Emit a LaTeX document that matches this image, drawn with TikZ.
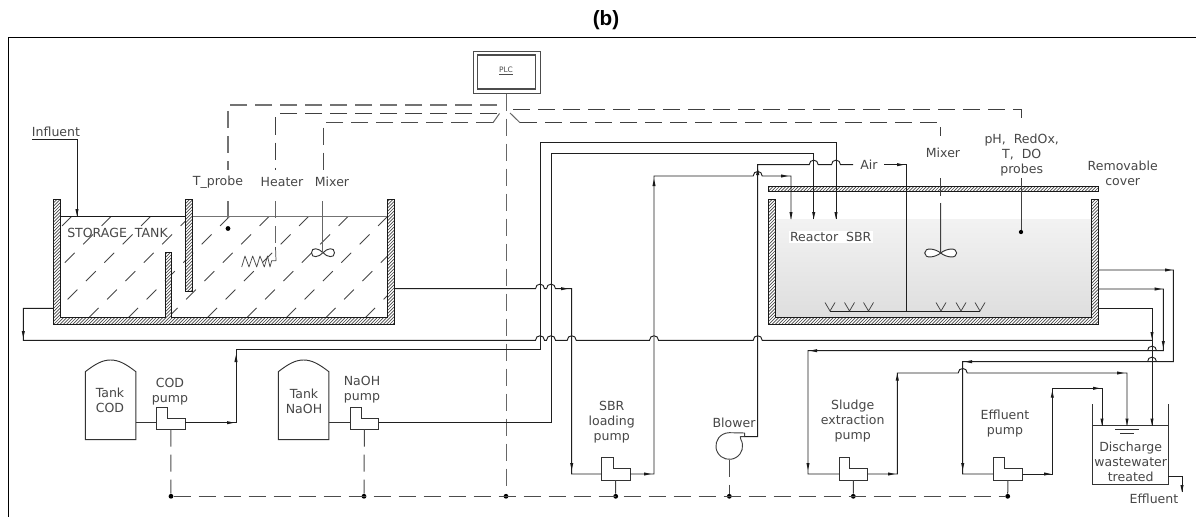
\documentclass[tikz,border=0pt]{standalone}
\usepackage{fontspec}
\setmainfont{DejaVu Sans}
\newfontfamily\titlefont{Liberation Sans}
\usetikzlibrary{arrows.meta}
\newcommand\cadf{\fontsize{9.4}{11.25}\selectfont}
\newcommand\hop[2]{-- (#1-4.5,#2) .. controls (#1-4.5,#2-6) and (#1+4.5,#2-6) .. (#1+4.5,#2)}
\newcommand\ahR[2]{\fill[tip] (#1,#2) -- (#1-7,#2-1.6) -- (#1-7,#2+1.6) -- cycle;}
\newcommand\ahL[2]{\fill[tip] (#1,#2) -- (#1+7,#2-1.6) -- (#1+7,#2+1.6) -- cycle;}
\newcommand\ahU[2]{\fill[tip] (#1,#2) -- (#1-1.6,#2+7) -- (#1+1.6,#2+7) -- cycle;}
\newcommand\ahD[2]{\fill[tip] (#1,#2) -- (#1-1.6,#2-7) -- (#1+1.6,#2-7) -- cycle;}
\newcommand\hatched[3]{% x start, x end, path
  \fill[white] #3;
  \begin{scope}
    \clip #3;
    \pgfmathsetmacro\hnext{#1+3.2}
    \foreach \h in {#1,\hnext,...,#2} { \draw[line width=.5pt,black!72] (\h,330) -- (\h+150,180); }
  \end{scope}
  \draw[line width=.7pt,black!90] #3;
}
\newcommand\pumpbody[6]{% name, x, ytop, width, step x offset, y offset of outlet
  \draw[equip,fill=white] (#2,#3+22.5) -- (#2,#3) -- (#2+#5,#3) -- (#2+#5,#3+11) -- (#2+#4,#3+11) -- (#2+#4,#3+22.5) -- cycle;
  \coordinate (#1-in) at (#2,#3+#6);
  \coordinate (#1-out) at (#2+#4,#3+#6);
  \coordinate (#1-ctl) at (#2+#4/2,#3+22.5);
}
\newcommand\storetank[2]{% name, x left
  \draw[equip] (#2,439.7) -- (#2,371.7) .. controls (#2+10,364) and (#2+17,360) .. (#2+25.3,360) .. controls (#2+33.6,360) and (#2+40.6,364) .. (#2+50.6,371.7) -- (#2+50.6,439.7) -- cycle;
  \coordinate (#1-out) at (#2+50.6,422.7);
}
\newcommand\prop[3]{% x, y, half width
  \draw[equip,fill=white] (#1,#2) .. controls (#1+#3*.35,#2-4.5) and (#1+#3,#2-6) .. (#1+#3,#2) .. controls (#1+#3,#2+6) and (#1+#3*.35,#2+4.5) .. (#1,#2) .. controls (#1-#3*.35,#2-4.5) and (#1-#3,#2-6) .. (#1-#3,#2) .. controls (#1-#3,#2+6) and (#1-#3*.35,#2+4.5) .. (#1,#2) -- cycle;
}
\tikzset{
  pipe/.style={line width=.7pt,draw=black!88},
  equip/.style={line width=.7pt,draw=black!80},
  tip/.style={fill=black!90},
  ctlline/.style={line width=.75pt,draw=black!70,dash pattern=on 12.75pt off 6pt},
  solidctl/.style={line width=.75pt,draw=black!75},
  lbl/.style={font=\cadf,text=black!72,align=center,inner sep=0pt},
  dot/.style={circle,fill=black,inner sep=0pt,minimum size=3.6pt},
  swash/.style={line width=.55pt,draw=black!72,dash pattern=on 10.5pt off 9pt},
}
\begin{document}
\begin{tikzpicture}[x=.75pt,y=-.75pt]
\useasboundingbox (0,0) rectangle (1196,517);
\fill[white] (0,0) rectangle (1196,517);
\node[font=\titlefont\bfseries\fontsize{15.5}{17}\selectfont,text=black,inner sep=0pt] (title) at (606,20.5) {(b)};
\draw[line width=.8pt,black] (8.5,517) -- (8.5,37.5) -- (1196,37.5);

% ---------- PLC
\draw[equip,draw=black!70] (473,51) rectangle (540,93.7);
\draw[equip,draw=black!70,line width=.9pt] (477.5,55) rectangle (535.5,89);
\node[font=\fontsize{5.6}{7}\selectfont,text=black!70,inner sep=0pt] (plc) at (506,71) {\underline{PLC}};
\coordinate (plcbot) at (506,93.7);
\coordinate (busplc) at (506,496.3);

% ---------- storage tank
\begin{scope}
\clip (60,216) rectangle (387,317.5);
\foreach \k in {-3,...,8} {
  \draw[swash] (388-39.5*\k,216) -- ++(-115,115);
}
\end{scope}
\draw[line width=.7pt,black!90] (60,216) -- (185,216);
\draw[line width=.7pt,black!55] (192,216) -- (387,216);
\hatched{-80}{400}{(53.3,199) -- (60.7,199) -- (60.7,317.5) -- (165,317.5) -- (165,252) -- (171.7,252) -- (171.7,317.5) -- (387.3,317.5) -- (387.3,199) -- (394.7,199) -- (394.7,324.3) -- (53.3,324.3) -- cycle}
\hatched{40}{160}{(185.3,199) rectangle (192.7,291.5)}
\node[lbl] (storagelbl) at (117.5,232.5) {STORAGE~~TANK};
\node[lbl] (influentlbl) at (56,132) {Influent};
\coordinate (infa) at (32,139.5);
\coordinate (infb) at (77,216);
\draw[pipe] (infa) -- (77,139.5) -- (infb);
\ahD{77}{216}

% storage tank instruments
\node[lbl] (tprobe) at (218,182) {T\_probe};
\node[lbl] (heaterlbl) at (282,182) {Heater};
\node[lbl] (mixerA) at (332,182) {Mixer};
\node[dot] (tdot) at (228,228.5) {};
\coordinate (heatertop) at (275.5,247);
\coordinate (heatera) at (241.7,267);
\prop{323}{252.7}{11.5}
\coordinate (propA) at (322.8,252.7);
\draw[ctlline,line width=.95pt,draw=black!55] (497,105) -- (228,105) -- (228,170);
\draw[ctlline,line width=.95pt,draw=black!55] (228,201) -- (tdot);
\draw[ctlline,draw=black!75] (497,114) -- (275.5,114) -- (275.5,170);
\draw[ctlline,draw=black!60] (275.5,201) -- (heatertop);
\draw[ctlline,draw=black!70] (493,122.7) -- (323,122.7) -- (323,172);
\draw[solidctl,draw=black!60] (322.8,201) -- (propA);
\draw[line width=.55pt,black!70,line join=round] (heatera) -- (245,256) -- (249,267) -- (252.7,256) -- (256.7,267) -- (260,256) -- (264.3,267) -- (267.5,256) -- (270,267) -- (271.7,260.7) -- (276,260.7) -- (heatertop);

% PLC bus
\draw[ctlline,draw=black!60] (plcbot) -- (busplc);
\draw[solidctl,draw=black!60] (493,122.7) -- (499.5,113.5);
\draw[solidctl,draw=black!60] (510,113) -- (520,122.7);
\draw[ctlline,draw=black!75] (513,109.5) -- (1021,109.5) -- (1021,125);
\draw[ctlline,draw=black!75] (520,122.7) -- (940.5,122.7) -- (940.5,136);

% ---------- reactor
\shade[top color=black!5,bottom color=black!13] (775.6,219.3) rectangle (1091.7,317.7);
\hatched{440}{1110}{(768,199.3) -- (775.6,199.3) -- (775.6,317.7) -- (1091.7,317.7) -- (1091.7,199.3) -- (1098.5,199.3) -- (1098.5,324.3) -- (768,324.3) -- cycle}
\hatched{620}{1100}{(768,186.5) rectangle (1098.5,191.5)}
\node[lbl,fill=white,inner xsep=1pt,inner ysep=1pt] (reactorlbl) at (830.7,236.7) {Reactor~~SBR};
\node[lbl] (mixerB) at (943,153) {Mixer};
\node[lbl] (probes) at (1021.7,155.5) {pH,~~RedOx,\\T,~~DO\\probes};
\node[lbl] (covertxt) at (1122.7,173) {Removable\\cover};
\node[lbl] (airlbl) at (869,165) {Air};
\node[dot,minimum size=3.2pt] (pdot) at (1021,232) {};
\draw[solidctl] (1021,178) -- (pdot);
\coordinate (propB) at (940.7,253);
\prop{940.7}{253}{16}
\draw[solidctl,draw=black!75] (940.5,178) -- (940.5,196);
\draw[solidctl,draw=black!75] (940.5,203) -- (propB);
% diffusers
\coordinate (diffL) at (830,311);
\coordinate (diffR) at (980,311);
\draw[pipe] (diffL) -- (diffR);
\foreach \vx in {830,849.5,868.5,941,961,980} {
  \draw[line width=.55pt,black!75] (\vx-5,302.5) -- (\vx,311) -- (\vx+5,302.5);
}

% ---------- pumps, tanks
\storetank{tcod}{85.3}
\storetank{tnaoh}{278.3}
\pumpbody{pcod}{156.7}{407}{28.3}{11}{15.7}
\pumpbody{pnaoh}{350}{407}{28.7}{11}{15.7}
\pumpbody{psbr}{601.3}{457.7}{28.7}{12}{16.3}
\pumpbody{pslu}{839.3}{457.7}{28.4}{10.5}{16.3}
\pumpbody{peff}{993}{457.7}{29.7}{11.3}{16.3}
\node[lbl] (tcodlbl) at (110,400.5) {Tank\\COD};
\node[lbl] (tnaohlbl) at (304,401.5) {Tank\\NaOH};
\node[lbl] (pcodlbl) at (170,391.5) {COD\\pump};
\node[lbl] (pnaohlbl) at (362,390) {NaOH\\pump};
\node[lbl] (psbrlbl) at (611.7,422) {SBR\\loading\\pump};
\node[lbl] (pslulbl) at (852.7,421.5) {Sludge\\extraction\\pump};
\node[lbl] (pefflbl) at (1005,424) {Effluent\\pump};
\node[lbl] (blowerlbl) at (734,422.7) {Blower};

% blower
\draw[equip,draw=black!75,line join=round] (740.8,439.35) arc[start angle=30,end angle=-270,radius=10pt] -- (744.7,433) -- (744.7,436.7) -- (740.3,436.7) -- (740.8,439.35);
\coordinate (blout) at (744.7,436.7);
\coordinate (blctl) at (729.3,459.5);

% ---------- discharge tank
\draw[equip] (1092.3,404) -- (1092.3,484) -- (1168,484) -- (1168,404);
\draw[equip] (1092.3,425.7) -- (1168,425.7);
\coordinate (dsw) at (1115,429);
\coordinate (dse) at (1139,429);
\draw[equip] (dsw) -- (dse);
\draw[equip] (1120,433) -- (1134,433);
\node[lbl] (dislbl) at (1130.7,461.7) {Discharge\\wastewater\\treated};
\node[lbl] (efflbl) at (1154,499) {Effluent};
\coordinate (disout) at (1168,476);
\draw[pipe] (disout) -- (1182,476) -- (1182,492);
\ahD{1182}{492}

% ---------- pipes
\coordinate (stout) at (394.7,288.7);
\draw[pipe] (stout) \hop{540}{288.7} \hop{551}{288.7} -- (571.7,288.7) -- (571.7,474) -- (psbr-in);
\ahR{568}{288.7}\ahD{571.7}{470}
\coordinate (stdrain) at (53.3,308.3);
\coordinate (drainend) at (1152,340.3);
\draw[pipe] (stdrain) -- (23.3,308.3) -- (23.3,340.3) \hop{540}{340.3} \hop{551}{340.3} \hop{571.7}{340.3} \hop{654}{340.3} \hop{757.7}{340.3} -- (drainend);
\ahD{23.3}{338}
\draw[equip] (tcod-out) -- (pcod-in);
\draw[equip] (tnaoh-out) -- (pnaoh-in);
\coordinate (rA) at (836,219);
\coordinate (rB) at (813.7,219);
\coordinate (rC) at (791,219);
\draw[pipe] (pcod-out) -- (236,422.7) -- (236,349.7) -- (540,349.7) -- (540,142.3) -- (836,142.3) -- (rA);
\ahR{234}{422.7}\ahU{236}{355}\ahD{836}{219}
\draw[pipe] (pnaoh-out) -- (551,422.7) -- (551,153.7) -- (813.7,153.7) -- (rB);
\ahD{813.7}{219}
\draw[pipe] (psbr-out) -- (654,474) -- (654,176) \hop{757.7}{176} -- (791,176) -- (rC);
\ahR{651}{474}\ahU{654}{179}\ahR{788}{176}\ahD{791}{219}
\draw[pipe] (blout) -- (757.7,436.7) -- (757.7,164.7) \hop{813.7}{164.7} \hop{836}{164.7} -- (853,164.7);
\ahU{757.7}{168}
\coordinate (airb) at (906,311);
\draw[pipe] (884,164.7) -- (906,164.7) -- (airb);
\ahR{904}{164.7}
% reactor outlets
\coordinate (oa) at (1098.5,270);
\coordinate (ob) at (1098.5,289);
\coordinate (oc) at (1098.5,308.3);
\coordinate (dis1) at (1152,425.7);
\coordinate (dis2) at (1127,425.7);
\coordinate (dis3) at (1102,425.7);
\draw[pipe] (oc) -- (1152,308.3) -- (dis1);
\ahD{1152}{339}\ahD{1152}{425.5}
\draw[pipe] (oa) -- (1173.3,270) -- (1173.3,361.7) \hop{1152}{361.7} -- (962.7,361.7) -- (962.7,474) -- (peff-in);
\ahR{1172}{270}\ahL{965}{361.7}\ahD{962.7}{470}
\draw[pipe] (ob) -- (1163.3,289) -- (1163.3,350.7) \hop{1152}{350.7} -- (808,350.7) -- (808,474) -- (pslu-in);
\ahR{1161.7}{289}\ahD{1163.3}{348}\ahL{810}{350.7}\ahD{808}{470}
\draw[pipe] (pslu-out) -- (897.3,474) -- (897.3,373) \hop{962.7}{373} -- (1127,373) -- (dis2);
\ahR{895}{474}\ahU{897.3}{373.5}\ahR{1124}{373}\ahD{1127}{425.5}
\draw[pipe] (peff-out) -- (1052.3,474) -- (1052.3,388.3) -- (1102,388.3) -- (dis3);
\ahR{1051}{474}\ahU{1052.3}{390.7}\ahR{1100}{388.3}\ahD{1102}{425.5}

% ---------- control bus
\node[dot] (b1) at (171,496.3) {};
\node[dot] (b2) at (364,496.3) {};
\node[dot] (b3) at (506,496.3) {};
\node[dot] (b4) at (615.7,496.3) {};
\node[dot] (b5) at (729.3,496.3) {};
\node[dot] (b6) at (853.3,496.3) {};
\node[dot] (b7) at (1007.7,496.3) {};
\draw[ctlline] (b1) -- (b7);
\draw[ctlline] (pcod-ctl) -- (b1);
\draw[ctlline] (pnaoh-ctl) -- (b2);
\draw[solidctl] (psbr-ctl) -- (b4);
\draw[ctlline] (blctl) -- (b5);
\draw[solidctl] (pslu-ctl) -- (b6);
\draw[solidctl] (peff-ctl) -- (b7);
\end{tikzpicture}
\end{document}
